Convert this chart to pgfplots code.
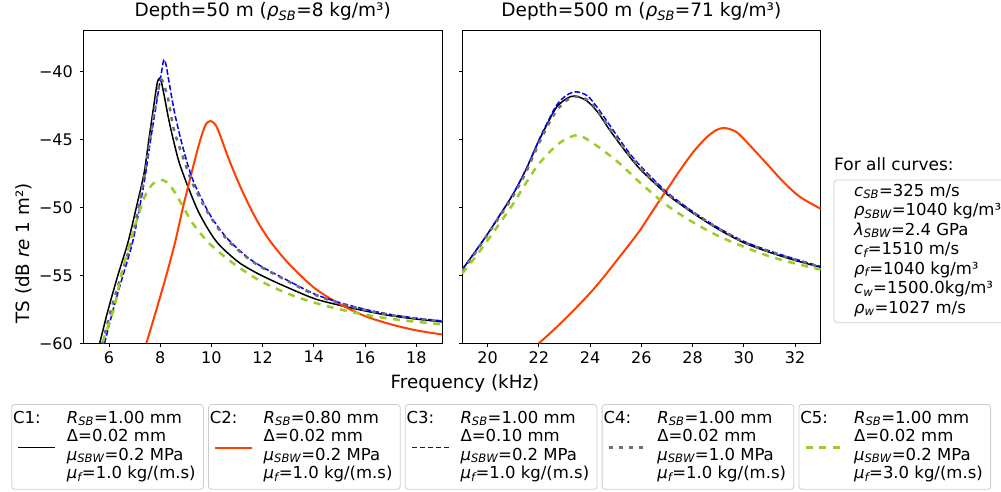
\documentclass[border=0pt]{standalone}
\usepackage{fontspec}
\setmainfont{DejaVu Sans}
\usepackage{pgfplots}
\pgfplotsset{compat=1.18}
\definecolor{cred}{RGB}{255,64,0}
\definecolor{cgreen}{RGB}{154,205,40}
\definecolor{cgray}{RGB}{110,110,110}
\definecolor{cblue}{RGB}{0,0,255}
\newcommand{\s}[1]{\textsubscript{\itshape #1}}
\newcommand{\ii}[1]{\textit{#1}}
\newcommand{\legfont}{\fontsize{16.5}{19}\selectfont}
\newcommand{\allfont}{\fontsize{16.5}{19}\selectfont}
\tikzset{
  c1/.style={black, line width=1.5pt},
  c2/.style={cred, line width=2pt},
  c3/.style={cblue, line width=1.5pt, dash pattern=on 5.5pt off 2.4pt},
  c4/.style={cgray, line width=2.5pt, dash pattern=on 4pt off 6pt},
  c5/.style={cgreen, line width=2.5pt, dash pattern=on 7pt off 6.5pt},
}
\pgfplotsset{
  myaxis/.style={
    scale only axis, width=358.7pt, height=312.6pt,
    ymin=-60, ymax=-37,
    ytick={-60,-55,-50,-45,-40},
    tick align=outside, major tick length=3.5pt,
    xtick pos=bottom, ytick pos=left,
    tick style={black, line width=0.8pt},
    axis line style={line width=0.8pt},
    ticklabel style={font=\fontsize{16}{19}\selectfont},
    xticklabel style={yshift=-1pt},
    yticklabel style={xshift=-3.5pt},
    title style={font=\fontsize{18.5}{22}\selectfont, at={(0.5,1)}, anchor=base, yshift=8pt},
    every axis plot/.append style={smooth, tension=0.5},
  }
}
\newcommand{\legbox}[7]{%
\begin{scope}[shift={(#1pt,0pt)}]
\draw[rounded corners=3pt, draw=black!20, line width=0.8pt, fill=white] (0pt,1.7pt) rectangle (191.7pt,86.5pt);
\node[anchor=base west, inner sep=0pt, font=\legfont] at (1.2pt,67.7pt) {#2};
\draw[#3] (6.6pt,43.3pt) -- (43.3pt,43.3pt);
\node[anchor=base west, inner sep=0pt, font=\legfont] at (55pt,67.7pt) {#4};
\node[anchor=base west, inner sep=0pt, font=\legfont] at (55pt,49.2pt) {#5};
\node[anchor=base west, inner sep=0pt, font=\legfont] at (55pt,30.7pt) {#6};
\node[anchor=base west, inner sep=0pt, font=\legfont] at (55pt,12.2pt) {#7};
\end{scope}}
\begin{document}
\begin{tikzpicture}
\path[use as bounding box] (0pt,0pt) rectangle (1001pt,491pt);
% ---------------- left panel
\begin{axis}[myaxis, at={(83.3pt,147.7pt)}, anchor=south west,
  xmin=5, xmax=19, xtick={6,8,10,12,14,16,18},
  xticklabels={6,8,10,12,14,16,18},
  yticklabels={−60,−55,−50,−45,−40},
  title={Depth=50 m (\ii{ρ}\s{SB}=8 kg/m³)}]
\addplot[c1] coordinates {(5.64,-60) (5.96,-57.6) (6.35,-55.0) (6.74,-52.6) (7.07,-50.0) (7.37,-47.5) (7.56,-45.0) (7.76,-42.4) (7.88,-40.9) (7.97,-40.5) (8.05,-40.8) (8.17,-41.9) (8.30,-43.2) (8.43,-44.35) (8.60,-45.7) (8.76,-46.8) (9.09,-48.5) (9.54,-50.5) (10.19,-52.5) (10.97,-53.9) (11.5,-54.55) (12.0,-55.05) (12.8,-55.75) (14.0,-56.7) (15.0,-57.2) (16.0,-57.62) (17.0,-57.97) (18.0,-58.22) (19.0,-58.42)};
\addplot[c2] coordinates {(7.46,-60) (7.85,-57.55) (8.24,-55.0) (8.57,-52.67) (8.89,-50.0) (9.22,-47.5) (9.52,-45.33) (9.74,-44.05) (9.85,-43.75) (9.97,-43.65) (10.1,-43.8) (10.26,-44.3) (10.71,-46.6) (11.23,-48.9) (11.76,-50.9) (12.3,-52.5) (13.0,-54.1) (14.0,-55.9) (15.0,-57.1) (16.0,-58.0) (17.0,-58.6) (18.0,-59.05) (19.0,-59.35)};
\addplot[c3] coordinates {(5.83,-60) (6.16,-57.55) (6.55,-55) (6.91,-52.67) (7.2,-50) (7.43,-47.53) (7.63,-45) (7.85,-42.4) (8.04,-40.2) (8.12,-39.3) (8.17,-39.15) (8.24,-39.6) (8.34,-40.7) (8.57,-43.1) (8.89,-45.6) (9.28,-48.0) (9.93,-50.5) (10.58,-52.2) (11.36,-53.6) (12.0,-54.4) (12.8,-55.2) (14.0,-56.35) (15.0,-57.0) (16.0,-57.5) (17.0,-57.88) (18.0,-58.15) (19.0,-58.35)};
\addplot[c4] coordinates {(5.75,-60) (6.08,-57.55) (6.48,-55) (6.86,-52.6) (7.15,-50) (7.40,-47.5) (7.60,-45) (7.80,-42.6) (7.95,-41.1) (8.04,-40.6) (8.12,-40.8) (8.22,-41.4) (8.30,-41.9) (8.54,-44.3) (8.89,-46.3) (9.28,-48.3) (9.93,-50.6) (10.58,-52.3) (11.36,-53.65) (12.0,-54.45) (12.8,-55.25) (14.0,-56.4) (15.0,-57.05) (16.0,-57.55) (17.0,-57.92) (18.0,-58.18) (19.0,-58.38)};
\addplot[c5] coordinates {(5.75,-59.9) (6.18,-57.55) (6.48,-55) (6.81,-52.67) (7.13,-50.7) (7.39,-49.24) (7.72,-48.26) (8.11,-48.0) (8.43,-48.5) (8.83,-49.73) (9.28,-51.2) (9.93,-52.67) (10.84,-54.1) (11.76,-55.25) (12.5,-55.95) (13.2,-56.5) (14.0,-57.0) (15.0,-57.5) (16.0,-57.9) (17.0,-58.2) (18.0,-58.42) (19.0,-58.6)};
\end{axis}
% ---------------- right panel
\begin{axis}[myaxis, at={(462pt,147.7pt)}, anchor=south west,
  xmin=19, xmax=33, xtick={20,22,24,26,28,30,32},
  xticklabels={20,22,24,26,28,30,32},
  yticklabels={},
  title={Depth=500 m (\ii{ρ}\s{SB}=71 kg/m³)}]
\addplot[c1] coordinates {(19.0,-54.6) (19.5,-53.3) (20.0,-51.95) (20.5,-50.5) (21.0,-49.0) (21.5,-47.2) (22.0,-45.1) (22.4,-43.6) (22.7,-42.6) (23.08,-42.0) (23.4,-41.8) (23.86,-42.15) (24.3,-43.0) (24.78,-44.35) (25.43,-46.0) (25.96,-47.2) (26.98,-49.0) (28.0,-50.4) (29.0,-51.6) (30.0,-52.6) (31.0,-53.3) (32.0,-53.9) (33.0,-54.4)};
\addplot[c2] coordinates {(22.0,-60) (22.5,-59.15) (23.0,-58.25) (23.5,-57.3) (24.0,-56.3) (24.5,-55.2) (25.0,-54.0) (25.5,-52.8) (25.96,-51.65) (26.46,-50.2) (26.98,-48.75) (27.5,-47.29) (28.02,-45.94) (28.55,-44.84) (28.94,-44.3) (29.26,-44.16) (29.72,-44.47) (30.24,-45.45) (30.9,-46.8) (31.55,-48.14) (32.2,-49.24) (33.0,-50.1)};
\addplot[c3] coordinates {(19.0,-54.6) (19.5,-53.3) (20.0,-51.95) (20.5,-50.5) (21.0,-49.0) (21.5,-47.2) (22.0,-45.05) (22.4,-43.5) (22.7,-42.45) (23.08,-41.75) (23.47,-41.5) (23.9,-41.8) (24.3,-42.7) (24.78,-44.0) (25.43,-45.75) (25.96,-46.95) (26.98,-48.85) (28.0,-50.3) (29.0,-51.5) (30.0,-52.5) (31.0,-53.2) (32.0,-53.8) (33.0,-54.35)};
\addplot[c4] coordinates {(19.0,-54.7) (19.5,-53.4) (20.0,-52.0) (20.5,-50.6) (21.0,-49.15) (21.5,-47.4) (22.0,-45.3) (22.4,-43.8) (22.7,-42.85) (23.1,-42.1) (23.45,-41.85) (23.9,-42.1) (24.3,-42.9) (24.78,-44.25) (25.43,-45.9) (25.96,-47.1) (26.98,-48.95) (28.0,-50.35) (29.0,-51.55) (30.0,-52.55) (31.0,-53.25) (32.0,-53.85) (33.0,-54.4)};
\addplot[c5] coordinates {(19.0,-54.87) (19.5,-53.7) (20.0,-52.42) (20.5,-51.1) (21.0,-49.73) (21.5,-48.2) (22.0,-46.8) (22.68,-45.45) (23.2,-44.84) (23.6,-44.72) (24.25,-45.45) (25.17,-46.8) (25.96,-48.2) (27.0,-49.85) (28.0,-51.08) (29.0,-52.1) (30.0,-52.9) (31.0,-53.6) (32.0,-54.13) (33.0,-54.57)};
\end{axis}
% ---------------- axis labels
\node[rotate=90, anchor=base, inner sep=0pt, font=\fontsize{18.3}{22}\selectfont] at (29.3pt,237.5pt) {TS (dB \ii{re} 1 m²)};
\node[anchor=base, inner sep=0pt, font=\fontsize{18.3}{22}\selectfont] at (465pt,102.7pt) {Frequency (kHz)};
% ---------------- for all curves box
\node[anchor=base west, inner sep=0pt, font=\fontsize{17}{20}\selectfont] at (834pt,320pt) {For all curves:};
\draw[rounded corners=3pt, draw=black!20, line width=0.8pt] (834pt,168.3pt) rectangle (1012pt,311pt);
\node[anchor=base west, inner sep=0pt, font=\allfont] at (854pt,295pt) {\ii{c}\s{SB}=325 m/s};
\node[anchor=base west, inner sep=0pt, font=\allfont] at (854pt,275.5pt) {\ii{ρ}\s{SBW}=1040 kg/m³};
\node[anchor=base west, inner sep=0pt, font=\allfont] at (854pt,256pt) {\ii{λ}\s{SBW}=2.4 GPa};
\node[anchor=base west, inner sep=0pt, font=\allfont] at (854pt,236.5pt) {\ii{c}\s{f}=1510 m/s};
\node[anchor=base west, inner sep=0pt, font=\allfont] at (854pt,217pt) {\ii{ρ}\s{f}=1040 kg/m³};
\node[anchor=base west, inner sep=0pt, font=\allfont] at (854pt,197.5pt) {\ii{c}\s{w}=1500.0kg/m³};
\node[anchor=base west, inner sep=0pt, font=\allfont] at (854pt,178pt) {\ii{ρ}\s{w}=1027 m/s};
% ---------------- legend boxes
\legbox{11.7}{C1:}{c1}{\ii{R}\s{SB}=1.00 mm}{Δ=0.02 mm}{\ii{μ}\s{SBW}=0.2 MPa}{\ii{μ}\s{f}=1.0 kg/(m.s)}
\legbox{208.5}{C2:}{c2}{\ii{R}\s{SB}=0.80 mm}{Δ=0.02 mm}{\ii{μ}\s{SBW}=0.2 MPa}{\ii{μ}\s{f}=1.0 kg/(m.s)}
\legbox{405.3}{C3:}{c3}{\ii{R}\s{SB}=1.00 mm}{Δ=0.10 mm}{\ii{μ}\s{SBW}=0.2 MPa}{\ii{μ}\s{f}=1.0 kg/(m.s)}
\legbox{602.1}{C4:}{c4}{\ii{R}\s{SB}=1.00 mm}{Δ=0.02 mm}{\ii{μ}\s{SBW}=1.0 MPa}{\ii{μ}\s{f}=1.0 kg/(m.s)}
\legbox{798.9}{C5:}{c5}{\ii{R}\s{SB}=1.00 mm}{Δ=0.02 mm}{\ii{μ}\s{SBW}=0.2 MPa}{\ii{μ}\s{f}=3.0 kg/(m.s)}
\end{tikzpicture}
\end{document}
